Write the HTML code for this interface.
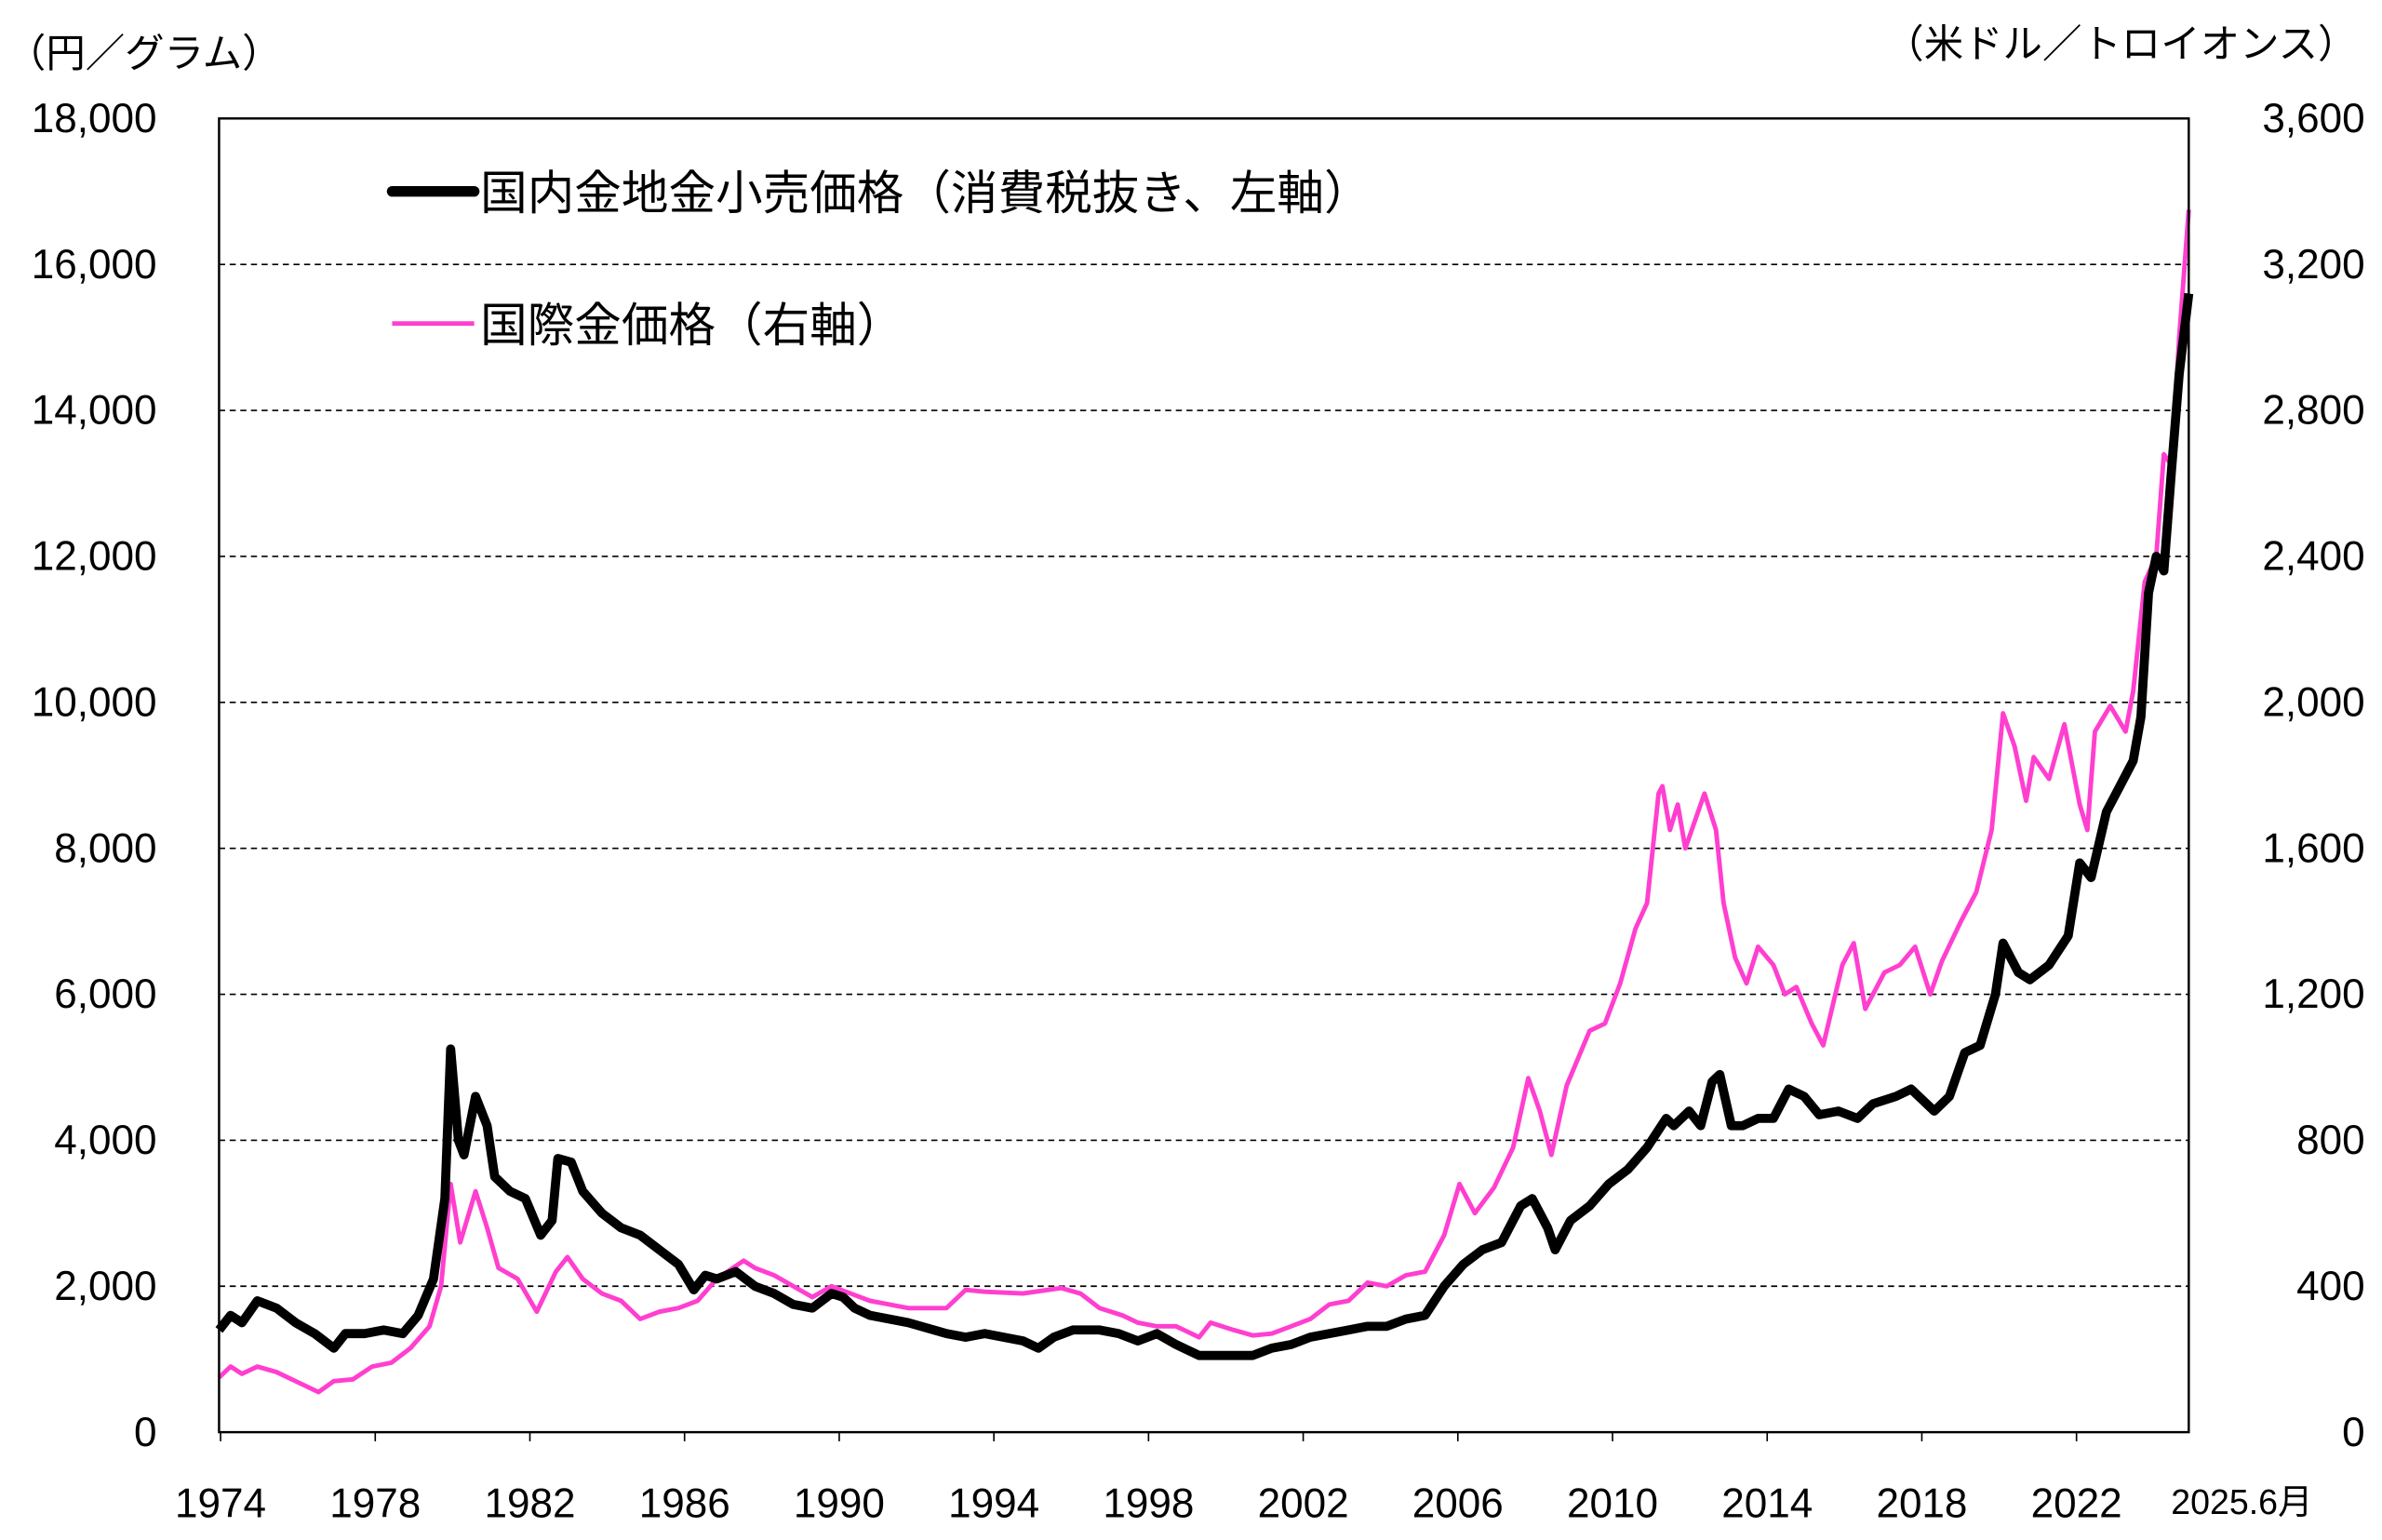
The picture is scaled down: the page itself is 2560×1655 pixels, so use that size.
<!DOCTYPE html>
<html><head><meta charset="utf-8"><style>
html,body{margin:0;padding:0;background:#fff}
svg{display:block}
text{font-family:"Liberation Sans","Noto Sans CJK JP",sans-serif;fill:#000}
</style></head><body>
<svg width="2560" height="1655" viewBox="0 0 1568 1014" xmlns="http://www.w3.org/2000/svg">
<g id="grid"></g>
<g id="axes"></g>
<g id="series"></g>
<rect x="144" y="78" width="1297" height="865" fill="none" stroke="#000" stroke-width="1.5"/>
<text x="4" y="44" font-size="26">（円／グラム）</text>
<text x="1552" y="38" font-size="26" text-anchor="end">（米ドル／トロイオンス）</text>
<g>
<line x1="258" y1="126" x2="312" y2="126" stroke="#000" stroke-width="7" stroke-linecap="round"/>
<text x="316" y="138" font-size="31">国内金地金小売価格（消費税抜き、左軸）</text>
<line x1="258" y1="213" x2="312" y2="213" stroke="#ff3fcf" stroke-width="3"/>
<text x="316" y="225" font-size="31">国際金価格（右軸）</text>
</g>
<script>
const leftTicks=[0,2000,4000,6000,8000,10000,12000,14000,16000,18000];
const rightTicks=[0,400,800,1200,1600,2000,2400,2800,3200,3600];
const yearTicks=[1974,1978,1982,1986,1990,1994,1998,2002,2006,2010,2014,2018,2022];
const domT=[1974.0,1974.3,1974.6,1975.0,1975.5,1976.0,1976.5,1977.0,1977.3,1977.8,1978.3,1978.8,1979.2,1979.6,1979.9,1980.05,1980.25,1980.4,1980.7,1981.0,1981.2,1981.6,1982.0,1982.4,1982.7,1982.85,1983.2,1983.5,1984.0,1984.5,1985.0,1985.5,1986.0,1986.4,1986.7,1987.0,1987.5,1988.0,1988.5,1989.0,1989.5,1990.0,1990.3,1990.6,1991,1992,1993,1993.5,1994,1995,1995.4,1995.8,1996.3,1997,1997.5,1998,1998.5,1999,1999.6,2000,2000.5,2001,2001.5,2002,2002.5,2003,2003.5,2004,2004.5,2005,2005.5,2006,2006.5,2007,2007.5,2008,2008.3,2008.7,2008.9,2009.3,2009.8,2010.3,2010.8,2011.3,2011.8,2012,2012.4,2012.7,2013.0,2013.2,2013.5,2013.8,2014.2,2014.6,2015.0,2015.4,2015.8,2016.3,2016.8,2017.2,2017.8,2018.2,2018.8,2019.2,2019.6,2020.0,2020.4,2020.6,2021.0,2021.3,2021.8,2022.3,2022.6,2022.9,2023.3,2023.8,2024.0,2024.2,2024.4,2024.6,2024.8,2025.0,2025.2,2025.45];
const domV=[1400,1600,1500,1800,1700,1500,1350,1150,1350,1350,1400,1350,1600,2100,3200,5250,4000,3800,4600,4200,3500,3300,3200,2700,2900,3750,3700,3300,3000,2800,2700,2500,2300,1950,2150,2100,2200,2000,1900,1750,1700,1900,1850,1700,1600,1500,1350,1300,1350,1250,1150,1300,1400,1400,1350,1250,1350,1200,1050,1050,1050,1050,1150,1200,1300,1350,1400,1450,1450,1550,1600,2000,2300,2500,2600,3100,3200,2800,2500,2900,3100,3400,3600,3900,4300,4200,4400,4200,4800,4900,4200,4200,4300,4300,4700,4600,4350,4400,4300,4500,4600,4700,4400,4600,5200,5300,6000,6700,6300,6200,6400,6800,7800,7600,8500,9000,9200,9800,11500,12000,11800,13200,14500,15600];
const intT=[1974.0,1974.3,1974.6,1975.0,1975.5,1976.0,1976.6,1977,1977.5,1978,1978.5,1979.0,1979.5,1979.8,1980.05,1980.3,1980.7,1981.0,1981.3,1981.8,1982.3,1982.8,1983.1,1983.5,1984,1984.5,1985,1985.5,1986,1986.5,1987,1987.7,1988,1988.5,1989,1989.5,1990,1990.5,1991,1992,1993,1993.5,1994,1995,1996,1996.5,1997,1997.6,1998,1998.5,1999,1999.6,1999.9,2000.5,2001,2001.5,2002,2002.5,2003,2003.5,2004,2004.5,2005,2005.5,2006,2006.4,2006.8,2007.3,2007.8,2008.2,2008.5,2008.8,2009.2,2009.8,2010.2,2010.6,2011.0,2011.3,2011.6,2011.7,2011.9,2012.1,2012.3,2012.8,2013.1,2013.3,2013.6,2013.9,2014.2,2014.6,2014.9,2015.2,2015.6,2015.9,2016.4,2016.7,2017.0,2017.5,2017.9,2018.3,2018.7,2019.0,2019.5,2019.9,2020.3,2020.6,2020.9,2021.2,2021.4,2021.8,2022.2,2022.6,2022.8,2023.0,2023.4,2023.8,2024.0,2024.3,2024.6,2024.8,2025.0,2025.2,2025.45];
const intV=[150,180,160,180,165,140,110,140,145,180,190,230,290,400,680,520,660,560,450,420,330,440,480,420,380,360,310,330,340,360,420,470,450,430,400,370,400,380,360,340,340,390,385,380,395,380,340,320,300,290,290,260,300,280,265,270,290,310,350,360,410,400,430,440,540,680,600,670,780,970,880,760,950,1100,1120,1230,1380,1450,1750,1770,1650,1720,1600,1750,1650,1450,1300,1230,1330,1280,1200,1220,1120,1060,1280,1340,1160,1260,1280,1330,1200,1290,1400,1480,1650,1970,1880,1730,1850,1790,1940,1720,1650,1920,1990,1920,2030,2330,2400,2680,2650,3000,3350];
const NS="http://www.w3.org/2000/svg";
const X0=144,X1=1441,Y0=943,Y1=78;
const xs=t=>145+(t-1974)*25.46;
const xd=t=>X0+(t-1974)*((X1-X0)/51.45);
const yl=v=>Y0-(v/18000)*(Y0-Y1);
const yr=v=>Y0-(v/3600)*(Y0-Y1);
function mk(tag,attrs,parent){const e=document.createElementNS(NS,tag);for(const k in attrs)e.setAttribute(k,attrs[k]);parent.appendChild(e);return e;}
const grid=document.getElementById('grid'),axes=document.getElementById('axes'),series=document.getElementById('series');
leftTicks.forEach((v,i)=>{
  const y=yl(v);
  if(v>0&&v<18000){const l=mk('line',{x1:X0,x2:X1,y1:y,y2:y,stroke:'#000','stroke-width':1,'stroke-dasharray':'4,3'},grid);
  
  }
  const t=mk('text',{x:103,y:y+9,'font-size':27,'text-anchor':'end'},axes);t.textContent=v.toLocaleString('en-US');
  
  
  const r=mk('text',{x:1557,y:yr(rightTicks[i])+9,'font-size':27,'text-anchor':'end'},axes);r.textContent=rightTicks[i].toLocaleString('en-US');
  
  
});
yearTicks.forEach(yv=>{
  const x=xs(yv);
  const tk=mk('line',{x1:x,x2:x,y1:Y0,y2:Y0+6,stroke:'#000','stroke-width':1},axes);
  
  
  const t=mk('text',{x:x,y:999,'font-size':27,'text-anchor':'middle'},axes);t.textContent=yv;
  
  
});
const last=mk('text',{x:1476,y:997,'font-size':23,'text-anchor':'middle'},axes);last.textContent='2025.6月';


function line(T,V,yf,color,w,name){
  const d=T.map((t,i)=>(i?'L':'M')+xd(t).toFixed(1)+','+yf(V[i]).toFixed(1)).join('');
  const p=mk('path',{d:d,fill:'none',stroke:color,'stroke-width':w,'stroke-linejoin':'round'},series);
  
  
}
line(intT,intV,yr,'#ff3fcf',3,'international-gold-line');
line(domT,domV,yl,'#000',6,'domestic-gold-line');
</script>
</svg>
</body></html>
